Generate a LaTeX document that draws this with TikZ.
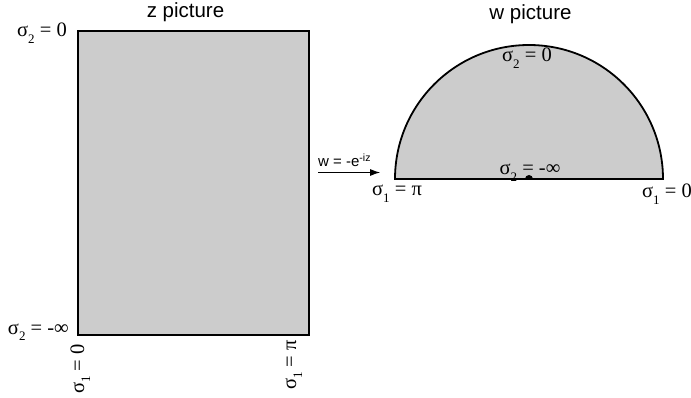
\documentclass[tikz,border=0pt]{standalone}
\usepackage{fontspec}
\setmainfont{Liberation Serif}
\newfontfamily\arialf{Liberation Sans}
\usetikzlibrary{arrows.meta}
\newcommand{\sbs}[1]{\raisebox{-0.3em}{\fontsize{13}{13}\selectfont #1}}
\begin{document}
\begin{tikzpicture}[x=1pt,y=-1pt,
  lbl/.style={inner sep=0pt, font=\fontsize{20.5}{22}\selectfont},
  ttl/.style={inner sep=0pt, font=\arialf\fontsize{20.5}{22}\selectfont, anchor=base},
  shade/.style={fill=black!20, draw=black, line width=1.8pt}]
\useasboundingbox (0,0) rectangle (691,398);
% z picture
\node[shade, minimum width=231pt, minimum height=304pt, inner sep=0pt, anchor=north west] (rect) at (77,30) {};
\node[ttl] (zt) at (185.5,18) {z picture};
\node[lbl, anchor=base east] (zs0) at (67,37) {σ\sbs{2} = 0};
\node[lbl, anchor=base east] (zsinf) at (69,334) {σ\sbs{2} = -∞};
\node[lbl, rotate=90, anchor=base east] (zs10) at (84,344) {σ\sbs{1} = 0};
\node[lbl, rotate=90, anchor=base east] (zs1pi) at (296,340) {σ\sbs{1} = π};
% w picture
\draw[shade] (395,179) arc[start angle=180, end angle=360, radius=134] -- cycle;
\fill (533,179) arc[start angle=0, end angle=-180, radius=4] -- cycle;
\node[ttl] (wt) at (530.5,20) {w picture};
\node[lbl, anchor=base] (ws0) at (527,62) {σ\sbs{2} = 0};
\node[lbl, anchor=base] (wsinf) at (530,175) {σ\sbs{2} = -∞};
\node[lbl, anchor=base] (ws1pi) at (397,196) {σ\sbs{1} = π};
\node[lbl, anchor=base east] (ws10) at (692,198) {σ\sbs{1} = 0};
% mapping arrow
\coordinate (a1) at (318,172.5);
\coordinate (a2) at (380,172.5);
\draw[-{Latex[length=10pt,width=7pt]}, line width=0.8pt] (a1) -- (a2);
\node[anchor=base west, inner sep=0pt, font=\arialf\fontsize{15}{16}\selectfont] (ml) at (318,167) {w = -e\textsuperscript{-iz}};
\end{tikzpicture}
\end{document}
